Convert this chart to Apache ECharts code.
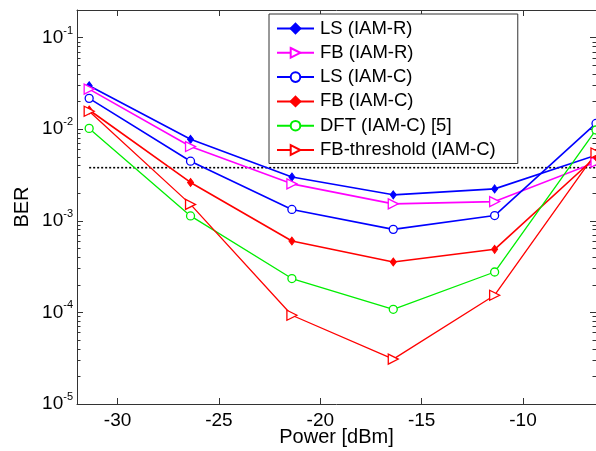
<!DOCTYPE html>
<html>
<head>
<meta charset="utf-8">
<script src="https://cdn.jsdelivr.net/npm/echarts@6/dist/echarts.min.js"></script>
<style>html,body{margin:0;padding:0;background:#fff}#c{width:596px;height:451px}</style>
</head>
<body>
<div id="c"></div>
<script>
var powerDbm = [-31.4, -26.4, -21.4, -16.4, -11.4, -6.4];
var lsIamR = [0.0298, 0.00775, 0.00301, 0.00192, 0.00223, 0.0052];
var fbIamR = [0.0274, 0.00646, 0.00253, 0.00153, 0.00162, 0.00436];
var lsIamC = [0.0217, 0.00447, 0.00133, 0.000806, 0.00114, 0.01156];
var fbIamC = [0.0162, 0.00262, 0.000601, 0.000355, 0.000488, 0.0050];
var dftIamC = [0.0102, 0.00113, 0.000234, 0.000108, 0.000276, 0.0098];
var fbThrIamC = [0.0157, 0.00151, 0.0000931, 0.0000309, 0.000154, 0.0055];
var fecThreshold = 0.0038;
var xTicks = [-30, -25, -20, -15, -10];
var yTicks = [1e-5, 1e-4, 1e-3, 1e-2, 1e-1];
var yMinorTicks = [];
[1e-5, 1e-4, 1e-3, 1e-2, 1e-1].forEach(function (d) {
  for (var k = 2; k <= 9; k++) { var v = d * k; if (v <= 0.2) yMinorTicks.push(v); }
});
var seriesNames = ['LS (IAM-R)', 'FB (IAM-R)', 'LS (IAM-C)', 'FB (IAM-C)', 'DFT (IAM-C) [5]', 'FB-threshold (IAM-C)'];

function pairs(ys) { return powerDbm.map(function (x, i) { return [x, ys[i]]; }); }

var triRight = 'path://M0,0 L10,5 L0,10 Z';
var axisColor = '#333';

function mkSeries(name, ys, color, symbol, size, hollow, width) {
  return {
    name: name, type: 'line', data: pairs(ys),
    xAxisIndex: 0, yAxisIndex: 0,
    symbol: symbol, symbolSize: size, showAllSymbol: true,
    lineStyle: { color: color, width: width },
    itemStyle: hollow ? { color: '#fff', borderColor: color, borderWidth: 1.3 } : { color: color, borderColor: color, borderWidth: 1 },
    emphasis: { disabled: true }, animation: false, clip: false, z: 3
  };
}

var chart = echarts.init(document.getElementById('c'), null, { renderer: 'canvas' });

var baseX = {
  type: 'value', min: -32, max: -6.4,
  axisLine: { show: true, lineStyle: { color: axisColor, width: 1 } },
  axisTick: { show: true, inside: true, length: 6, customValues: xTicks, lineStyle: { color: axisColor } },
  splitLine: { show: false }
};
var baseY = {
  type: 'log', logBase: 10, min: 1e-5, max: 0.2,
  axisLine: { show: true, lineStyle: { color: axisColor, width: 1 } },
  axisTick: { show: true, inside: true, length: 6, customValues: yTicks, lineStyle: { color: axisColor } },
  splitLine: { show: false }
};
function merge(a, b) { return Object.assign({}, a, b); }

chart.setOption({
  animation: false,
  backgroundColor: '#fff',
  grid: { left: 77, right: 0, top: 10, bottom: 47, containLabel: false, outerBoundsMode: 'none' },
  legend: {
    data: seriesNames, orient: 'vertical', left: 269, top: 14,
    itemWidth: 37, itemHeight: 12, itemGap: 5.3,
    padding: [5, 22, 4, 7],
    backgroundColor: '#fff', borderColor: '#333', borderWidth: 1,
    textStyle: { fontFamily: 'Liberation Sans', fontSize: 18.5, color: '#000', padding: [0, 0, 0, 1] },
    selectedMode: false
  },
  xAxis: [
    merge(baseX, {
      position: 'bottom',
      axisLabel: { show: true, customValues: xTicks, margin: 7, fontFamily: 'Liberation Sans', fontSize: 19, color: '#000' },
      name: 'Power [dBm]', nameLocation: 'middle', nameGap: 23, nameMoveOverlap: false,
      nameTextStyle: { fontFamily: 'Liberation Sans', fontSize: 20, color: '#000' }
    }),
    merge(baseX, { position: 'top', axisLabel: { show: false } })
  ],
  yAxis: [
    merge(baseY, {
      position: 'left',
      axisLabel: {
        show: true, customValues: yTicks, margin: 4,
        formatter: function (v) { return '{b|10}{s|' + Math.round(Math.log10(v)) + '}'; },
        rich: {
          b: { fontFamily: 'Liberation Sans', fontSize: 19, color: '#000' },
          s: { fontFamily: 'Liberation Sans', fontSize: 11, color: '#000', verticalAlign: 'top', padding: [0, 0, 14, 0] }
        }
      },
      name: 'BER', nameLocation: 'middle', nameGap: 45, nameMoveOverlap: false,
      nameTextStyle: { fontFamily: 'Liberation Sans', fontSize: 20, color: '#000' }
    }),
    merge(baseY, { position: 'right', axisLabel: { show: false } }),
    merge(baseY, {
      position: 'left', axisLine: { show: false }, axisLabel: { show: false },
      axisTick: { show: true, inside: true, length: 3.5, customValues: yMinorTicks, lineStyle: { color: axisColor } }
    }),
    merge(baseY, {
      position: 'right', axisLine: { show: false }, axisLabel: { show: false },
      axisTick: { show: true, inside: true, length: 3.5, customValues: yMinorTicks, lineStyle: { color: axisColor } }
    })
  ],
  series: [
    {
      name: 'threshold', type: 'line', xAxisIndex: 0, yAxisIndex: 0,
      data: [[powerDbm[0], fecThreshold], [powerDbm[powerDbm.length - 1], fecThreshold]],
      symbol: 'none', lineStyle: { color: '#000', width: 1.6, type: [2, 2] }, z: 2,
      emphasis: { disabled: true }, animation: false
    },
    mkSeries(seriesNames[0], lsIamR, '#0000ff', 'diamond', [6, 8], false, 1.6),
    mkSeries(seriesNames[1], fbIamR, '#ff00ff', triRight, 10, true, 1.6),
    mkSeries(seriesNames[2], lsIamC, '#0000ff', 'circle', 8, true, 1.6),
    mkSeries(seriesNames[3], fbIamC, '#ff0000', 'diamond', [6, 8], false, 1.6),
    mkSeries(seriesNames[4], dftIamC, '#00ee00', 'circle', 8, true, 1.3),
    mkSeries(seriesNames[5], fbThrIamC, '#ff0000', triRight, 10, true, 1.3)
  ]
});
</script>
</body>
</html>
